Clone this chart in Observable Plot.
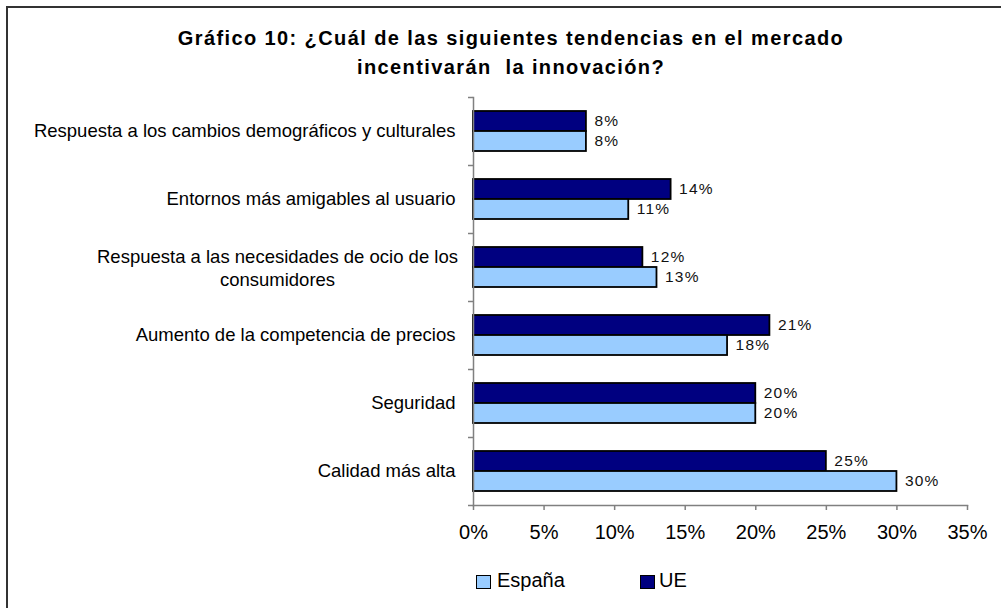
<!DOCTYPE html>
<html>
<head>
<meta charset="utf-8">
<script src="https://cdn.jsdelivr.net/npm/d3@7"></script>
<script src="https://cdn.jsdelivr.net/npm/@observablehq/plot@0.6"></script>
<style>
  html, body { margin: 0; padding: 0; background: #fff; overflow: hidden; }
  #wrap { position: relative; width: 1001px; height: 608px; overflow: hidden; font-family: "Liberation Sans", Arial, sans-serif; color: #000; }
  #border { position: absolute; left: 6px; top: 6px; width: 1200px; height: 800px; border-top: 2px solid #333; border-left: 2px solid #333; }
  #title { position: absolute; left: 21px; top: 24px; width: 980px; text-align: center; font-weight: bold; font-size: 20px; line-height: 29px; letter-spacing: 1.4px; white-space: pre; }
  #chart { position: absolute; left: 0; top: 0; }
  .leg { position: absolute; top: 570px; font-size: 20px; line-height: 20px; white-space: nowrap; }
  .sw { position: absolute; top: 575px; width: 13px; height: 12px; border: 1.5px solid #000; }
  .vlab text { letter-spacing: 1.2px; }
</style>
</head>
<body>
<div id="wrap">
  <div id="border"></div>
  <div id="title"></div>
  <div id="chart"></div>
  <div id="legend"></div>
</div>
<script>
const titleLines = ["Gráfico 10: ¿Cuál de las siguientes tendencias en el mercado", "incentivarán  la innovación?"];
const categories = [
  "Respuesta a los cambios demográficos y culturales",
  "Entornos más amigables al usuario",
  "Respuesta a las necesidades de ocio de los\nconsumidores",
  "Aumento de la competencia de precios",
  "Seguridad",
  "Calidad más alta"
];
const ueValues = [8, 14, 12, 21, 20, 25];
const espanaValues = [8, 11, 13, 18, 20, 30];
const xTicks = [0, 5, 10, 15, 20, 25, 30, 35];
const seriesNames = ["España", "UE"];
const seriesColors = ["#99CCFF", "#000080"];

document.getElementById("title").textContent = titleLines.join("\n");

const ueData = categories.map((c, i) => ({cat: c, value: ueValues[i]}));
const esData = categories.map((c, i) => ({cat: c, value: espanaValues[i]}));
const singleLine = categories.filter(c => !c.includes("\n"));
const multiLine = categories.filter(c => c.includes("\n"));

const chart = Plot.plot({
  width: 1001,
  height: 560,
  marginTop: 97,
  marginBottom: 55,
  marginLeft: 473,
  marginRight: 34,
  x: {domain: [0, 35], axis: null},
  y: {domain: categories, padding: 0, axis: null},
  style: {fontFamily: "'Liberation Sans', Arial, sans-serif", color: "#000", background: "transparent", overflow: "visible"},
  marks: [
    Plot.barX(ueData, {x: "value", y: "cat", fill: seriesColors[1], stroke: "#000", strokeWidth: 1.8, insetTop: 14, insetBottom: 34}),
    Plot.barX(esData, {x: "value", y: "cat", fill: seriesColors[0], stroke: "#000", strokeWidth: 1.8, insetTop: 34, insetBottom: 14}),
    Plot.text(ueData, {x: "value", y: "cat", text: d => d.value + "%", dx: 8, dy: -10, textAnchor: "start", fontSize: 15.5, fill: "#111", className: "vlab"}),
    Plot.text(esData, {x: "value", y: "cat", text: d => d.value + "%", dx: 8, dy: 10, textAnchor: "start", fontSize: 15.5, fill: "#111", className: "vlab"}),
    Plot.frame({anchor: "left", stroke: "#808080", strokeWidth: 1.5}),
    Plot.frame({anchor: "bottom", stroke: "#808080", strokeWidth: 1.5}),
    Plot.axisX({ticks: xTicks, tickFormat: d => d + "%", tickSize: 5, tickPadding: 14, fontSize: 20, stroke: "#808080", strokeWidth: 1.5, fill: "#000", label: null}),
    Plot.axisY({tickSize: 5, tickFormat: () => "", dy: -34, stroke: "#808080", strokeWidth: 1.5, label: null}),
    Plot.axisY({ticks: [categories[categories.length - 1]], tickSize: 5, tickFormat: () => "", dy: 34, stroke: "#808080", strokeWidth: 1.5, label: null}),
    Plot.axisY({ticks: singleLine, tickSize: 0, tickPadding: 18, fontSize: 18.5, fill: "#000", label: null}),
    Plot.text(multiLine, {y: d => d, frameAnchor: "left", textAnchor: "middle", dx: -196, lineHeight: 1.25, fontSize: 18.5, fill: "#000"})
  ]
});
document.getElementById("chart").appendChild(chart);

const legend = document.getElementById("legend");
const legPos = [{sw: 476, tx: 497}, {sw: 640, tx: 659}];
seriesNames.forEach((name, i) => {
  const sw = document.createElement("div");
  sw.className = "sw";
  sw.style.left = legPos[i].sw + "px";
  sw.style.background = seriesColors[i];
  legend.appendChild(sw);
  const t = document.createElement("div");
  t.className = "leg";
  t.style.left = legPos[i].tx + "px";
  t.textContent = name;
  legend.appendChild(t);
});
</script>
</body>
</html>
